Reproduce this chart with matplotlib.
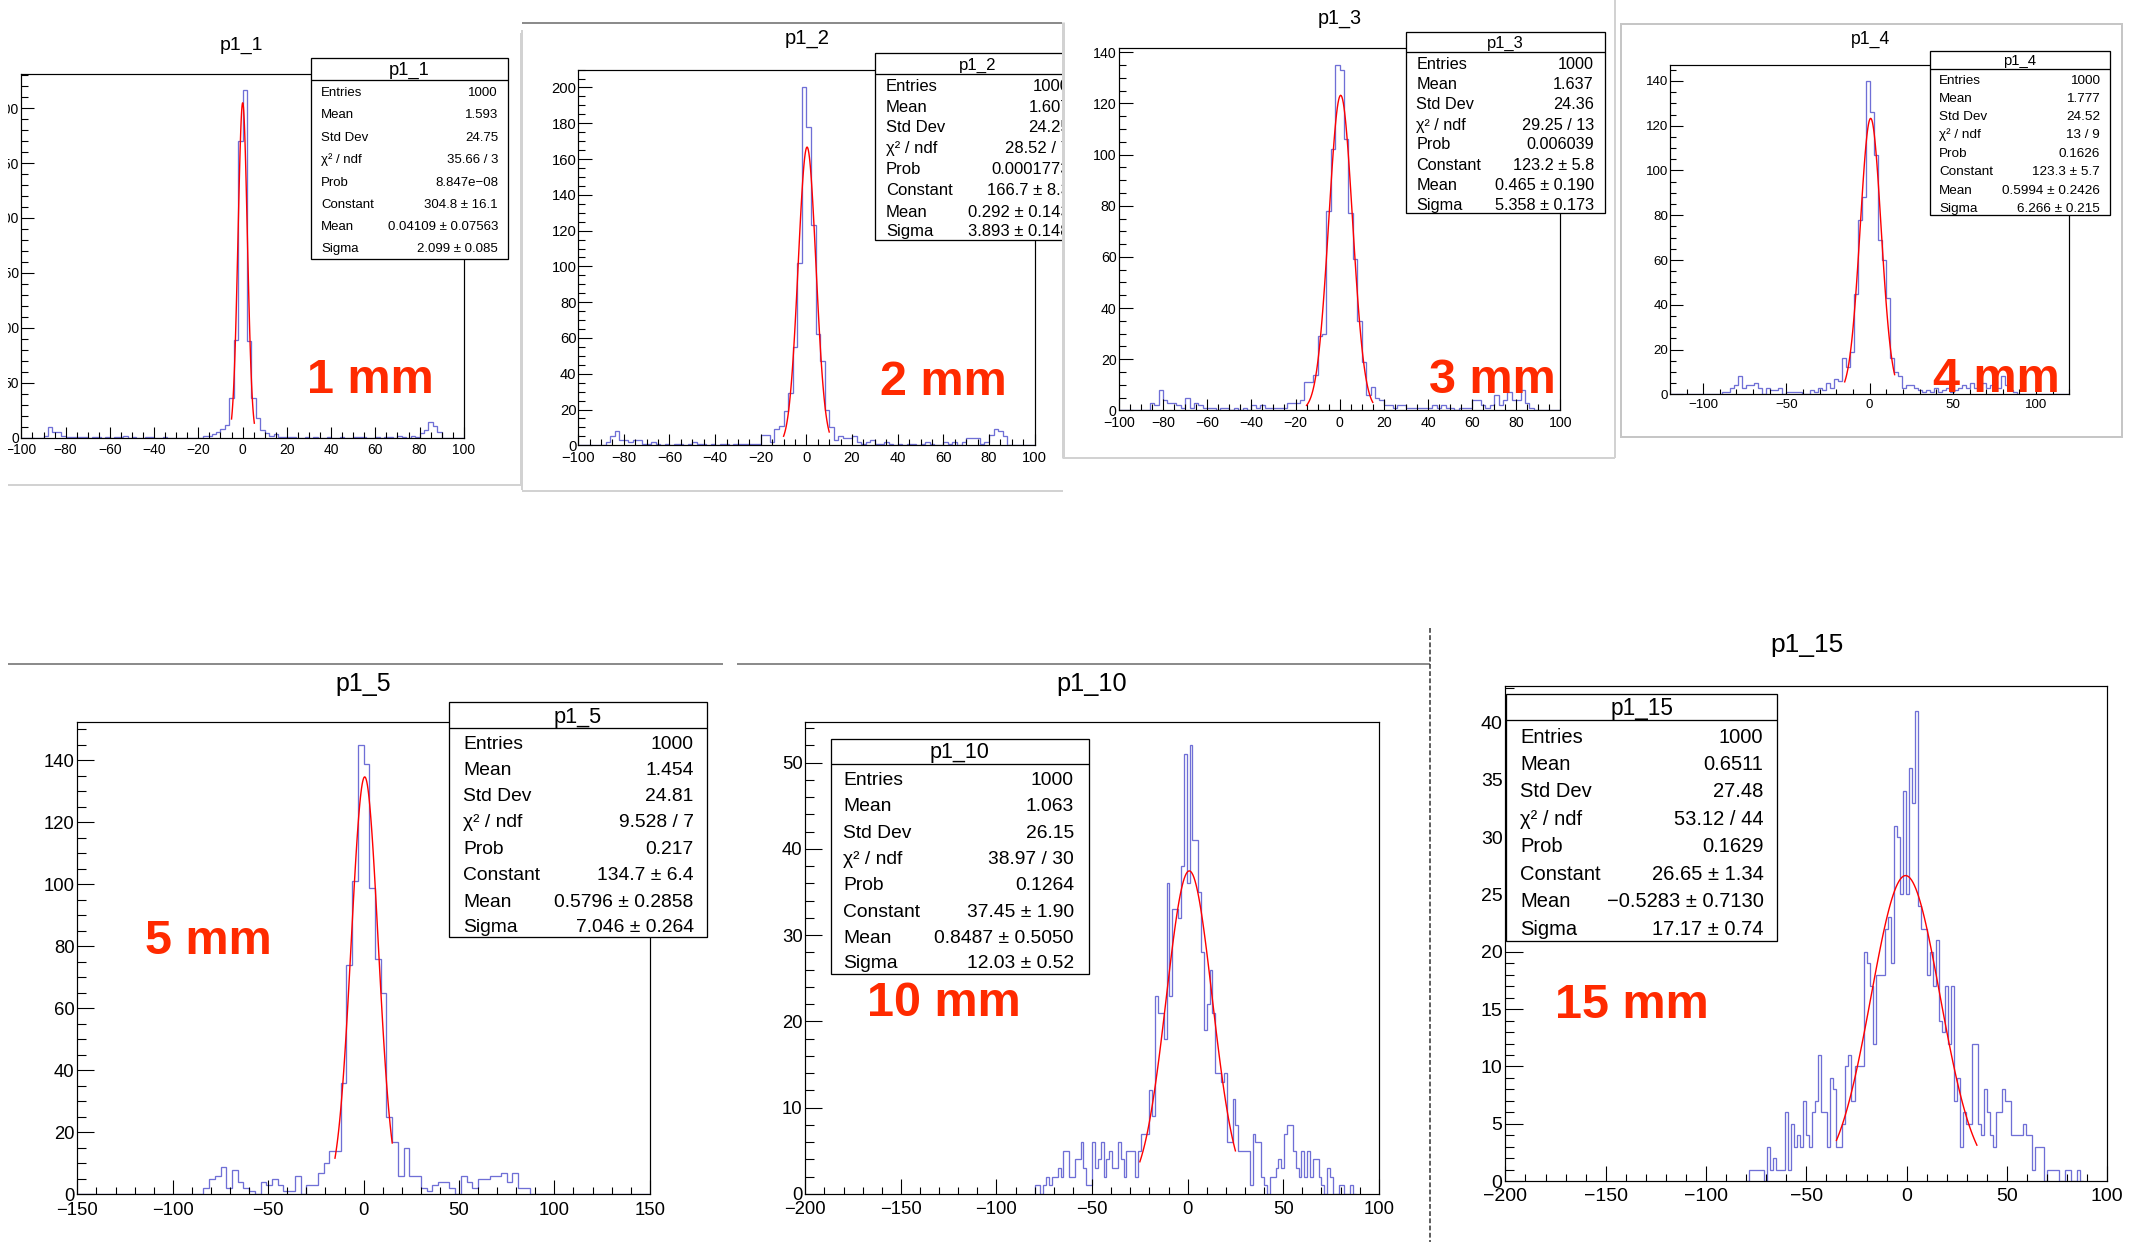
import numpy as np
import matplotlib
matplotlib.use("Agg")
import matplotlib.pyplot as plt
from matplotlib.patches import Rectangle
from matplotlib.lines import Line2D
from matplotlib.ticker import MultipleLocator
from matplotlib.transforms import Affine2D

plt.rcParams['font.family'] = ['Liberation Sans', 'DejaVu Sans']

# ===================== DATA =====================
names = ["p1_1", "p1_2", "p1_3", "p1_4", "p1_5", "p1_10", "p1_15"]
marks = ["1 mm", "2 mm", "3 mm", "4 mm", "5 mm", "10 mm", "15 mm"]

# histogram binning: low edge of first listed bin, bin width
bin_start = [-100.0, -100.0, -100.0, -120.0, -150.0, -80.0, -80.0]
bin_width = [2.0, 2.0, 2.0, 2.4, 3.0, 1.5, 1.5]

counts_p1_1 = [0, 0, 0, 0, 0, 2, 10, 5, 5, 2,
               1, 1, 1, 1, 1, 0, 1, 1, 0, 1,
               0, 1, 1, 2, 0, 1, 0, 0, 1, 1,
               0, 0, 1, 0, 0, 0, 0, 0, 0, 0,
               0, 2, 2, 3, 5, 8, 12, 36, 89, 270,
               316, 88, 36, 18, 7, 4, 2, 3, 1, 1,
               1, 1, 0, 0, 1, 0, 1, 0, 0, 1,
               0, 0, 1, 0, 0, 1, 1, 1, 0, 0,
               1, 0, 1, 1, 0, 2, 1, 0, 2, 1,
               4, 7, 14, 11, 5, 0, 0, 0, 0, 0]

counts_p1_2 = [0, 0, 0, 0, 0, 0, 2, 5, 8, 3,
               3, 2, 3, 3, 1, 1, 2, 1, 0, 1,
               0, 1, 1, 0, 1, 2, 1, 1, 0, 1,
               0, 1, 1, 0, 1, 1, 1, 1, 1, 1,
               6, 6, 2, 9, 11, 19, 29, 55, 102, 200,
               178, 123, 62, 47, 20, 10, 3, 5, 4, 4,
               5, 2, 1, 2, 3, 1, 1, 2, 1, 0,
               1, 0, 1, 1, 0, 1, 2, 1, 0, 0,
               2, 1, 2, 0, 2, 4, 4, 4, 1, 2,
               6, 9, 8, 5, 0, 0, 0, 0, 0, 0]

counts_p1_3 = [0, 0, 0, 0, 0, 0, 0, 3, 2, 8,
               4, 3, 3, 2, 1, 5, 1, 3, 2, 1,
               1, 1, 0, 1, 1, 0, 1, 0, 1, 0,
               2, 1, 2, 1, 1, 1, 1, 1, 3, 3,
               3, 4, 11, 11, 14, 29, 30, 78, 102, 135,
               133, 106, 77, 59, 35, 19, 6, 9, 5, 4,
               2, 2, 1, 2, 2, 1, 1, 1, 1, 1,
               1, 2, 1, 2, 1, 1, 0, 1, 1, 1,
               4, 4, 2, 1, 2, 6, 2, 4, 7, 4,
               4, 8, 3, 1, 0, 0, 0, 0, 0, 0]

counts_p1_4 = [0, 0, 0, 0, 0, 0, 0, 0, 0, 0,
               0, 0, 0, 1, 1, 3, 4, 8, 3, 4,
               4, 5, 3, 0, 3, 2, 2, 3, 0, 1,
               1, 1, 1, 0, 0, 2, 1, 3, 2, 5,
               3, 7, 6, 16, 12, 19, 45, 78, 88, 140,
               126, 107, 69, 60, 43, 16, 10, 8, 3, 4,
               4, 3, 2, 1, 2, 1, 3, 1, 2, 3,
               1, 2, 3, 4, 3, 5, 3, 4, 5, 3,
               4, 6, 3, 8, 4, 2, 1, 0, 0, 0,
               0, 0, 0, 0, 0, 0, 0, 0, 0, 0]

counts_p1_5 = [0, 0, 0, 0, 0, 0, 0, 0, 0, 0,
               0, 0, 0, 0, 0, 0, 0, 0, 0, 0,
               0, 0, 2, 5, 6, 9, 2, 8, 4, 2,
               1, 0, 4, 3, 5, 3, 1, 1, 6, 0,
               3, 3, 7, 10, 14, 14, 36, 74, 101, 145,
               139, 99, 76, 65, 25, 17, 6, 15, 6, 6,
               2, 1, 3, 4, 4, 2, 0, 6, 4, 2,
               5, 5, 6, 6, 7, 4, 7, 2, 2, 0,
               0, 0, 0, 0, 0, 0, 0, 0, 0, 0,
               0, 0, 0, 0, 0, 0, 0, 0, 0, 0]

counts_p1_10 = [1, 1, 0, 1, 2, 1, 2, 2, 3, 2,
                5, 5, 2, 2, 4, 4, 6, 3, 1, 1,
                6, 3, 4, 6, 2, 4, 5, 3, 3, 6,
                4, 2, 5, 5, 5, 2, 5, 7, 7, 7,
                12, 9, 23, 21, 21, 18, 36, 23, 33, 33,
                32, 38, 51, 36, 52, 41, 41, 35, 28, 19,
                22, 26, 21, 14, 14, 13, 14, 6, 6, 11,
                8, 5, 5, 5, 5, 1, 7, 6, 6, 2,
                1, 0, 2, 2, 3, 4, 3, 7, 8, 8,
                5, 3, 2, 5, 2, 5, 2, 4, 4, 2,
                1, 0, 3, 2, 0, 0, 1, 1, 0, 0,
                1, 0]

counts_p1_15 = [0, 1, 1, 1, 1, 1, 0, 3, 1, 2,
                1, 1, 1, 6, 1, 5, 3, 4, 3, 7,
                4, 3, 6, 7, 11, 6, 6, 3, 9, 8,
                3, 3, 5, 10, 11, 7, 10, 10, 10, 20,
                19, 17, 12, 18, 18, 18, 22, 23, 19, 31,
                30, 25, 34, 25, 36, 33, 41, 24, 22, 22,
                18, 20, 17, 21, 14, 13, 17, 12, 17, 7,
                9, 3, 6, 5, 5, 12, 12, 5, 4, 8,
                6, 4, 3, 6, 6, 8, 7, 7, 4, 4,
                4, 4, 5, 4, 4, 1, 3, 3, 3, 0,
                1, 1, 1, 1, 0, 0, 1, 1, 0, 0,
                1, 0]

counts = [counts_p1_1, counts_p1_2, counts_p1_3, counts_p1_4,
          counts_p1_5, counts_p1_10, counts_p1_15]

# Gaussian fit results (from stat boxes) and fit range
fit_constant = [304.8, 166.7, 123.2, 123.3, 134.7, 37.45, 26.65]
fit_mean = [0.04109, 0.292, 0.465, 0.5994, 0.5796, 0.8487, -0.5283]
fit_sigma = [2.099, 3.893, 5.358, 6.266, 7.046, 12.03, 17.17]
fit_lo = [-5.0, -10.0, -15.0, -15.0, -15.0, -25.0, -35.0]
fit_hi = [5.3, 10.0, 15.0, 15.0, 15.0, 25.0, 35.0]

x_ranges = [(-100, 100), (-100, 100), (-100, 100), (-120, 120),
            (-150, 150), (-200, 100), (-200, 100)]
y_tops = [331.0, 210.0, 141.8, 147.0, 152.3, 54.7, 43.2]

stat_labels = ["Entries", "Mean", "Std Dev", "\u03c7\u00b2 / ndf", "Prob",
               "Constant", "Mean", "Sigma"]
stats_p1_1 = ["1000", "1.593", "24.75", "35.66 / 3", "8.847e\u221208",
              "304.8 \u00b1 16.1", "0.04109 \u00b1 0.07563", "2.099 \u00b1 0.085"]
stats_p1_2 = ["1000", "1.607", "24.25", "28.52 / 7", "0.0001773",
              "166.7 \u00b1 8.3", "0.292 \u00b1 0.143", "3.893 \u00b1 0.148"]
stats_p1_3 = ["1000", "1.637", "24.36", "29.25 / 13", "0.006039",
              "123.2 \u00b1 5.8", "0.465 \u00b1 0.190", "5.358 \u00b1 0.173"]
stats_p1_4 = ["1000", "1.777", "24.52", "13 / 9", "0.1626",
              "123.3 \u00b1 5.7", "0.5994 \u00b1 0.2426", "6.266 \u00b1 0.215"]
stats_p1_5 = ["1000", "1.454", "24.81", "9.528 / 7", "0.217",
              "134.7 \u00b1 6.4", "0.5796 \u00b1 0.2858", "7.046 \u00b1 0.264"]
stats_p1_10 = ["1000", "1.063", "26.15", "38.97 / 30", "0.1264",
               "37.45 \u00b1 1.90", "0.8487 \u00b1 0.5050", "12.03 \u00b1 0.52"]
stats_p1_15 = ["1000", "0.6511", "27.48", "53.12 / 44", "0.1629",
               "26.65 \u00b1 1.34", "\u22120.5283 \u00b1 0.7130", "17.17 \u00b1 0.74"]
stats = [stats_p1_1, stats_p1_2, stats_p1_3, stats_p1_4,
         stats_p1_5, stats_p1_10, stats_p1_15]

# ===================== LAYOUT (pixels, y from top) =====================
layout = [
    dict(ax=(21.4, 74.0, 463.8, 437.7), xmaj=20, xmin=5, ymaj=50, ymin=10,
         xlen=(11, 5.7), ylen=(13, 7), tfs=10.0, xpad=5.2, ypad=2.4,
         title=(241.4, 42.7, 14.0), box=(311, 58, 508, 259), div=80,
         btitle=(409.5, 68.5, 13.2),
         rows=[91.7, 113.7, 136, 158.7, 181, 203.3, 225.3, 247],
         lx=321, vx=498, sfs=9.5, mark=(370.3, 393.3)),
    dict(ax=(578.2, 69.6, 1034.6, 445.3), xmaj=20, xmin=5, ymaj=20, ymin=5,
         xlen=(11.4, 5.7), ylen=(13.6, 7), tfs=10.6, xpad=5.5, ypad=1.8,
         title=(806.8, 36.8, 14.6), box=(874.6, 52.9, 1080, 240.4), div=73.7,
         btitle=(977.9, 63.6, 12.1),
         rows=[85.4, 106.5, 126.5, 146.6, 168.4, 189.5, 210.6, 230.3],
         lx=886, vx=1070, sfs=12.0, mark=(942.9, 395.0)),
    dict(ax=(1118.9, 47.7, 1560.4, 410.3), xmaj=20, xmin=5, ymaj=20, ymin=5,
         xlen=(11.3, 5.7), ylen=(13.6, 6.8), tfs=10.2, xpad=5.3, ypad=2.5,
         title=(1340, 16.7, 14.2), box=(1405.7, 32.3, 1604.6, 213.3), div=51.7,
         btitle=(1505, 42.3, 11.9),
         rows=[62.7, 83.3, 103.3, 124, 143.3, 164, 184.3, 204],
         lx=1416.4, vx=1594, sfs=11.7, mark=(1492, 393.3)),
    dict(ax=(1669.9, 65.3, 2069.4, 394.3), xmaj=50, xmin=10, ymaj=20, ymin=5,
         xlen=(11, 5.5), ylen=(12.7, 6.4), tfs=9.6, xpad=4.7, ypad=1.7,
         title=(1870.3, 37.3, 12.7), box=(1929.5, 51.3, 2110, 215.3), div=69,
         btitle=(2020, 60, 10.7),
         rows=[79, 97.3, 115.3, 133.3, 151.7, 170.3, 189, 206.7],
         lx=1939, vx=2100, sfs=9.7, mark=(1996, 392.0)),
    dict(ax=(77.4, 722.3, 649.8, 1194.4), xmaj=50, xmin=10, ymaj=20, ymin=5,
         xlen=(13.8, 7.3), ylen=(17, 9), tfs=13.3, xpad=7.5, ypad=2.8,
         title=(363.4, 682.3, 18.0), box=(449.3, 701.6, 707, 937.4), div=727.7,
         btitle=(578, 715, 15.7),
         rows=[742, 768.1, 793.9, 820.1, 846.6, 872.8, 899.7, 924.7],
         lx=463, vx=693.7, sfs=13.9, mark=(208.8, 953.6)),
    dict(ax=(805.3, 722.1, 1378.8, 1193.9), xmaj=50, xmin=10, ymaj=10, ymin=2,
         xlen=(14.6, 7), ylen=(17.4, 8.7), tfs=13.3, xpad=6.7, ypad=2.8,
         title=(1091.8, 682.2, 18.3), box=(830.5, 738.7, 1088.6, 974.4), div=764.4,
         btitle=(959.6, 750.6, 15.5),
         rows=[778.2, 804.3, 830.8, 856.9, 883, 909.9, 935.6, 961.3],
         lx=843, vx=1074, sfs=13.9, mark=(944.2, 1016.2)),
    dict(ax=(1505.4, 685.8, 2107.3, 1181.1), xmaj=50, xmin=10, ymaj=5, ymin=1,
         xlen=(15, 7.5), ylen=(17.9, 9), tfs=14.0, xpad=6.8, ypad=2.8,
         title=(1806.6, 643, 19.0), box=(1506.3, 693.8, 1777.2, 941.3), div=720,
         btitle=(1641.8, 706.7, 16.3),
         rows=[735.8, 762.4, 790.2, 818, 845, 873.2, 900.2, 927.6],
         lx=1520, vx=1763.4, sfs=14.5, mark=(1632.1, 1017.9)),
]

HIST_C = "#6f6fd6"
FIT_C = "#ff0000"
MARK_C = "#ff2a00"
LIGHT = "#d2d2d2"
MID = "#8c8c8c"

W, H, DPI = 2140, 1242, 100
fig = plt.figure(figsize=(W / DPI, H / DPI), dpi=DPI)
fig.patch.set_facecolor("white")
PX = Affine2D().scale(1.0 / W, -1.0 / H).translate(0.0, 1.0) + fig.transFigure


def pt(px):
    return px * 72.0 / DPI


def rect(x0, y0, x1, y1, z, fc="white", ec="none", lw_px=0.0):
    fig.add_artist(Rectangle((x0, y0), x1 - x0, y1 - y0, transform=PX,
                             facecolor=fc, edgecolor=ec, linewidth=pt(lw_px),
                             zorder=z))


def line(xs, ys, z, color, lw_px, **kw):
    fig.add_artist(Line2D(xs, ys, transform=PX, color=color, linewidth=pt(lw_px),
                          zorder=z, solid_capstyle="butt", **kw))


def text(x, yc, s, fs, z, ha="left", color="black", weight="normal"):
    base = yc + 0.358 * fs * DPI / 72.0
    fig.text(x / W, 1.0 - base / H, s, fontsize=fs, ha=ha, va="baseline",
             color=color, fontweight=weight, zorder=z)


# ---------- screenshot canvases (backgrounds / borders) ----------
canvas = [
    lambda z: (rect(0, 0, 521, 485, z),
               line([521, 521], [33, 485], z + 0.5, LIGHT, 2),
               line([7, 521], [485, 485], z + 0.5, LIGHT, 2)),
    lambda z: (rect(0, 0, 7.6, 500, z - 1),          # crop edge of first screenshot
               rect(521, 0, 1063, 492, z),
               line([521.5, 521.5], [30, 490], z + 0.5, LIGHT, 2),
               line([522, 1065], [23, 23], z + 0.5, MID, 2),
               line([522, 1063], [491, 491], z + 0.5, LIGHT, 2)),
    lambda z: (rect(1062, 0, 1616, 459, z),
               line([1063, 1063], [22, 458], z + 0.5, LIGHT, 3),
               line([1063, 1615], [458, 458], z + 0.5, LIGHT, 2),
               line([1615, 1615], [0, 458], z + 0.5, LIGHT, 2)),
    lambda z: (rect(1621, 24, 2122, 437, z, ec="#c6c6c6", lw_px=2),),
    lambda z: (line([8, 723], [664, 664], z + 0.5, MID, 2),),
    lambda z: (line([737, 1430], [664, 664], z + 0.5, MID, 2),
               line([1430, 1430], [628, 1242], z + 0.5, "#3a3a3a", 1.6,
                    linestyle=(0, (3, 1.5)))),
    lambda z: (),
]

for i in range(7):
    L = layout[i]
    z = 10 * i
    canvas[i](z)

    x0, y0, x1, y1 = L["ax"]
    ax = fig.add_axes([x0 / W, 1 - y1 / H, (x1 - x0) / W, (y1 - y0) / H])
    ax.set_zorder(z + 1)
    ax.patch.set_facecolor("white")

    c = np.asarray(counts[i], dtype=float)
    edges = bin_start[i] + bin_width[i] * np.arange(len(c) + 1)
    ax.stairs(c, edges, color=HIST_C, linewidth=pt(1.3))

    xf = np.linspace(fit_lo[i], fit_hi[i], 100)
    yf = fit_constant[i] * np.exp(-0.5 * ((xf - fit_mean[i]) / fit_sigma[i]) ** 2)
    ax.plot(xf, yf, color=FIT_C, linewidth=pt(1.4))

    ax.set_xlim(*x_ranges[i])
    ax.set_ylim(0, y_tops[i])
    ax.xaxis.set_major_locator(MultipleLocator(L["xmaj"]))
    ax.xaxis.set_minor_locator(MultipleLocator(L["xmin"]))
    ax.yaxis.set_major_locator(MultipleLocator(L["ymaj"]))
    ax.yaxis.set_minor_locator(MultipleLocator(L["ymin"]))
    ax.tick_params(axis="both", which="both", direction="in", top=False,
                   right=False, width=pt(1.1), colors="black",
                   labelsize=L["tfs"])
    ax.tick_params(axis="x", which="major", length=pt(L["xlen"][0]), pad=pt(L["xpad"]))
    ax.tick_params(axis="x", which="minor", length=pt(L["xlen"][1]))
    ax.tick_params(axis="y", which="major", length=pt(L["ylen"][0]), pad=pt(L["ypad"]))
    ax.tick_params(axis="y", which="minor", length=pt(L["ylen"][1]))
    for sp in ax.spines.values():
        sp.set_linewidth(pt(1.2))
        sp.set_color("black")

    # histogram title
    tx, ty, tfs = L["title"]
    text(tx, ty, names[i], tfs, z + 3, ha="center")

    # stat box
    bx0, by0, bx1, by1 = L["box"]
    rect(bx0, by0, bx1, by1, z + 2, fc="white", ec="black", lw_px=1.3)
    line([bx0, bx1], [L["div"], L["div"]], z + 2.5, "black", 1.3)
    btx, bty, bfs = L["btitle"]
    text(btx, bty, names[i], bfs, z + 3, ha="center")
    for lab, val, yc in zip(stat_labels, stats[i], L["rows"]):
        text(L["lx"], yc, lab, L["sfs"], z + 3)
        text(L["vx"], yc, val, L["sfs"], z + 3, ha="right")

    # big red annotation
    mx, mb = L["mark"]
    fig.text(mx / W, 1 - mb / H, marks[i], fontsize=35, fontweight="bold",
             color=MARK_C, ha="center", va="baseline", zorder=z + 4)

fig.savefig("out.png", dpi=DPI, facecolor="white")
